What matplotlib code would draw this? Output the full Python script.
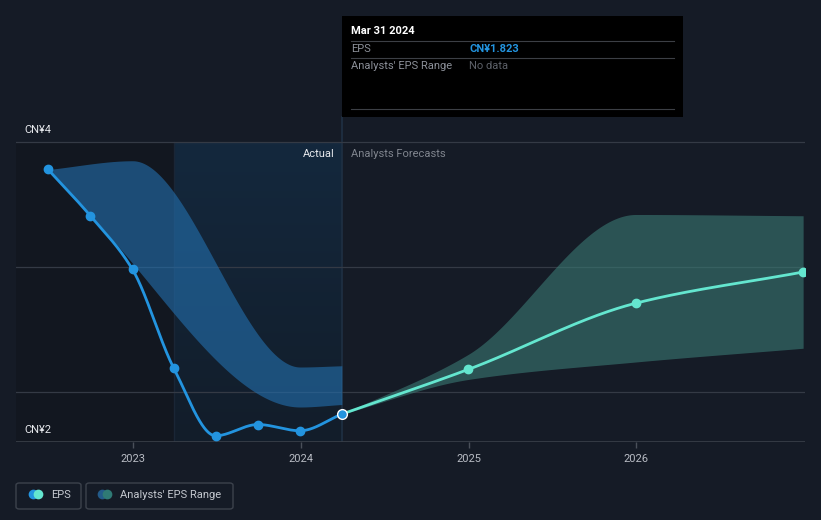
import matplotlib
matplotlib.use("Agg")
import matplotlib.pyplot as plt
import matplotlib.dates as mdates
from matplotlib.patches import Rectangle, FancyBboxPatch
import numpy as np

plt.rcParams['font.family'] = ['Roboto', 'DejaVu Sans']

# EPS (actual), CN¥
eps_dates = ["2022-06-30", "2022-09-30", "2022-12-31", "2023-03-31", "2023-06-30",
             "2023-09-30", "2023-12-31", "2024-03-31"]
eps_values = [3.78, 3.41, 2.98, 2.19, 1.65, 1.74, 1.69, 1.823]

# past analysts' range
low_dates = ["2022-06-30", "2022-09-30", "2023-12-31", "2024-03-31"]
past_low = [3.78, 3.41, 1.88, 1.90]
high_dates = ["2022-06-30", "2022-12-31", "2023-12-31", "2024-03-31"]
past_high = [3.78, 3.85, 2.20, 2.21]

# forecasts
fc_dates = ["2024-03-31", "2024-12-31", "2025-12-31", "2026-12-31"]
fc_values = [1.823, 2.18, 2.71, 2.96]
fc_low = [1.823, 2.10, 2.24, 2.35]
fc_high = [1.823, 2.30, 3.42, 3.41]

year_ticks = ["2023", "2024", "2025", "2026"]

W, H = 821, 520
BG = "#151b26"
BLUE = "#2394df"
TEAL = "#64e6cf"


def pchip(x, y, n=200):
    x = np.asarray(x, float)
    y = np.asarray(y, float)
    h = np.diff(x)
    d = np.diff(y) / h
    m = np.zeros_like(y)
    m[0], m[-1] = d[0], d[-1]
    for i in range(1, len(y) - 1):
        if d[i - 1] * d[i] > 0:
            w1 = 2 * h[i] + h[i - 1]
            w2 = h[i] + 2 * h[i - 1]
            m[i] = (w1 + w2) / (w1 / d[i - 1] + w2 / d[i])
    xs, ys = [], []
    for i in range(len(h)):
        t = np.linspace(0, 1, n)
        h00 = 2 * t**3 - 3 * t**2 + 1
        h10 = t**3 - 2 * t**2 + t
        h01 = -2 * t**3 + 3 * t**2
        h11 = t**3 - t**2
        xs.append(x[i] + t * h[i])
        ys.append(h00 * y[i] + h10 * h[i] * m[i] + h01 * y[i + 1] + h11 * h[i] * m[i + 1])
    return np.concatenate(xs), np.concatenate(ys)


def dn(lst):
    return mdates.datestr2num(lst)


def px(x, y):
    return x / W, 1 - y / H


fig = plt.figure(figsize=(W / 100, H / 100), dpi=100, facecolor=BG)
ax = fig.add_axes([16 / W, 1 - 442 / H, (805 - 16) / W, (442 - 10) / H])
ax.set_facecolor(BG)

y_top = 4 + 132 / 125
ax.set_ylim(1.6, y_top)
x0 = mdates.datestr2num("2023-01-01") - 117 / 167.7 * 365.25
x1 = mdates.datestr2num("2026-01-01") + 169 / 167.7 * 365.25
ax.set_xlim(x0, x1)

t_hl = dn(["2023-03-31"])[0]
t_now = dn(["2024-03-31"])[0]
frac4 = (4 - 1.6) / (y_top - 1.6)

# shaded regions
ax.axvspan(x0, t_hl, ymax=frac4, color="#121720", zorder=0, lw=0)
grad = np.linspace(0, 1, 100).reshape(-1, 1)
ax.imshow(grad, extent=[t_hl, t_now, 1.6, 4], origin="lower", aspect="auto", zorder=0,
          cmap=matplotlib.colors.LinearSegmentedColormap.from_list("hl", ["#121d2a", "#14283d"]))
ax.axvline(t_hl, ymax=frac4, color="#1a2636", lw=1, zorder=1)
ax.axvline(t_now, ymin=0, ymax=(4 + 25 / 125 - 1.6) / (y_top - 1.6),
           color="#1f3043", lw=1.2, zorder=1)

for g in [2, 3, 4]:
    ax.axhline(g, color="#343a45", lw=0.9, zorder=1)
ax.axhline(1.6, color="#3a404a", lw=1.2, zorder=1)

# past range band
lx, ly = pchip(dn(low_dates), past_low)
hx, hy = pchip(dn(high_dates), past_high)
bx = np.linspace(dn(low_dates)[0], dn(low_dates)[-1], 600)
ax.fill_between(bx, np.interp(bx, lx, ly), np.interp(bx, hx, hy),
                color="#2371b0", alpha=0.6, lw=0, zorder=2)

# forecast band
fx, flo = pchip(dn(fc_dates), fc_low)
_, fhi = pchip(dn(fc_dates), fc_high)
ax.fill_between(fx, flo, fhi, color="#3a7a74", alpha=0.6, lw=0, zorder=2)

# EPS lines
ex, ey = pchip(dn(eps_dates), eps_values)
ax.plot(ex, ey, color=BLUE, lw=2, zorder=3, solid_capstyle="round")
ax.plot(dn(eps_dates[:-1]), eps_values[:-1], "o", color=BLUE, ms=6, zorder=4)
cx, cy = pchip(dn(fc_dates), fc_values)
ax.plot(cx, cy, color=TEAL, lw=2, zorder=3, solid_capstyle="round")
ax.plot(dn(fc_dates[1:]), fc_values[1:], "o", color=TEAL, ms=6, zorder=4)
ax.plot(dn(eps_dates[-1:]), eps_values[-1:], "o", color=BLUE, ms=7, mec="white", mew=1, zorder=5)

ax.set_xticks(dn([y + "-01-01" for y in year_ticks]))
ax.set_xticklabels(year_ticks)
ax.tick_params(axis="x", colors="#4a505a", labelcolor="#b8bcc4", labelsize=8, length=4, width=1, pad=5)
ax.set_yticks([])
for s in ax.spines.values():
    s.set_visible(False)

fig.text(*px(24, 130), "CN¥4", color="#e6e8ec", fontsize=8, va="center", ha="left")
fig.text(*px(24, 430), "CN¥2", color="#e6e8ec", fontsize=8, va="center", ha="left")
fig.text(*px(335, 154), "Actual", color="#e6e8ec", fontsize=8, va="center", ha="right")
fig.text(*px(351, 154), "Analysts Forecasts", color="#80858e", fontsize=8, va="center", ha="left")

# tooltip
fig.patches.append(Rectangle(px(342, 117), 341 / W, 101 / H, transform=fig.transFigure,
                             facecolor="black", edgecolor="none", zorder=10))
for yy in [41, 58, 109]:
    fig.add_artist(plt.Line2D([351 / W, 674 / W], [1 - yy / H] * 2, color="#3c3f45", lw=0.8, zorder=11))
fig.text(*px(351, 31), "Mar 31 2024", color="white", fontsize=8, fontweight="bold", va="center", zorder=12)
fig.text(*px(351, 49), "EPS", color="#8c9099", fontsize=8, va="center", zorder=12)
fig.text(*px(469, 49), "CN¥1.823", color=BLUE, fontsize=8, fontweight="bold", va="center", zorder=12)
fig.text(*px(351, 66), "Analysts' EPS Range", color="#8c9099", fontsize=8, va="center", zorder=12)
fig.text(*px(469, 66), "No data", color="#5d6169", fontsize=8, va="center", zorder=12)

# legend
for (bx0, bw) in [(16, 65), (86, 147)]:
    fig.patches.append(FancyBboxPatch(px(bx0, 509), bw / W, 26 / H, transform=fig.transFigure,
                                      boxstyle="round,pad=0,rounding_size=0.004",
                                      facecolor="none", edgecolor="#3c424c", lw=1))
for (cx0, col) in [(33, BLUE), (38, TEAL), (102, "#235b8a"), (107, "#2f7a75")]:
    fig.add_artist(plt.Line2D([cx0 / W], [1 - 494 / H], marker="o", ms=7, color=col, mec="none"))
fig.text(*px(51, 495), "EPS", color="#c4c8cf", fontsize=8, va="center")
fig.text(*px(120, 495), "Analysts' EPS Range", color="#c4c8cf", fontsize=8, va="center")

fig.savefig("out.png", dpi=100, facecolor=BG)
